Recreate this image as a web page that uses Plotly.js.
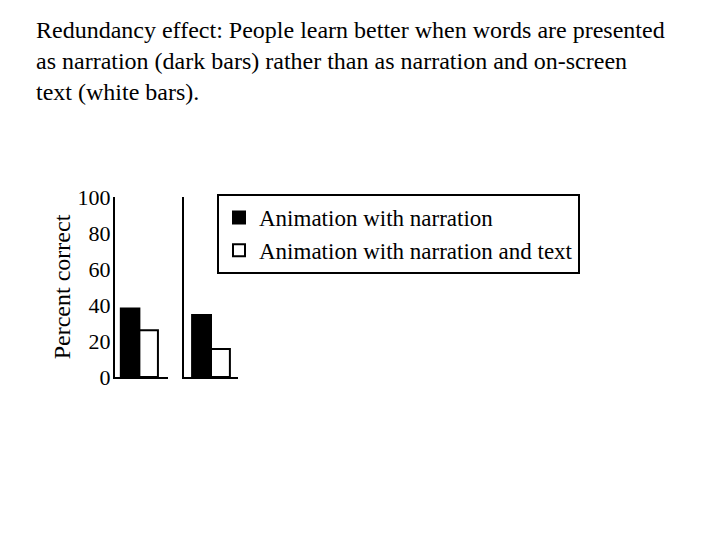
<!DOCTYPE html>
<html>
<head>
<meta charset="utf-8">
<script src="https://cdn.plot.ly/plotly-3.0.1.min.js"></script>
<style>
  body { margin: 0; background: #fff; }
  #plotDiv { width: 720px; height: 540px; }
</style>
</head>
<body>
<div id="plotDiv"></div>
<script>
// Data
const groups = ["Study 1", "Study 2"];
const narration = [38, 34.5];
const narrationText = [26, 15.5];
const seriesNames = ["Animation with narration", "Animation with narration and text"];
const yTicks = [0, 20, 40, 60, 80, 100];

const serif = "Liberation Serif, Times New Roman, serif";

let traces = [];
for (let i = 0; i < groups.length; i++) {
  let xa = i === 0 ? "x" : "x2";
  let ya = i === 0 ? "y" : "y2";
  traces.push({
    type: "bar",
    x: [groups[i]],
    y: [narration[i]],
    xaxis: xa,
    yaxis: ya,
    name: seriesNames[0],
    legendgroup: "a",
    showlegend: i === 0,
    marker: { color: "#000", line: { color: "#000", width: 2 } },
  });
  traces.push({
    type: "bar",
    x: [groups[i]],
    y: [narrationText[i]],
    xaxis: xa,
    yaxis: ya,
    name: seriesNames[1],
    legendgroup: "b",
    showlegend: i === 0,
    marker: { color: "#fff", line: { color: "#000", width: 2 } },
  });
}

let yDomain = [163 / 540, 343 / 540];
let axisLine = { showline: true, linecolor: "#000", linewidth: 2 };

let layout = {
  width: 720,
  height: 540,
  paper_bgcolor: "#fff",
  plot_bgcolor: "#fff",
  margin: { l: 0, r: 0, t: 0, b: 0 },
  barmode: "group",
  bargap: 0.3,
  bargroupgap: 0,
  font: { family: serif, color: "#000" },
  title: {
    text: "Redundancy effect: People learn better when words are presented<br>as narration (dark bars) rather than as narration and on-screen<br>text (white bars).",
    font: { family: serif, size: 24, color: "#000" },
    x: 36 / 720,
    xanchor: "left",
    xref: "paper",
    y: 1 - 38 / 540,
    yanchor: "top",
    yref: "paper",
    pad: { t: 0, b: 0, l: 0, r: 0 },
  },
  xaxis: Object.assign({
    domain: [115 / 720, 168 / 720],
    type: "category",
    range: [-0.46, 0.54],
    showticklabels: false,
    showgrid: false,
    zeroline: false,
    anchor: "y",
  }, axisLine),
  yaxis: Object.assign({
    domain: yDomain,
    range: [0, 100],
    tickvals: yTicks,
    ticktext: yTicks.map(String),
    tickfont: { family: serif, size: 22, color: "#000" },
    ticklabelstandoff: -2,
    showgrid: false,
    zeroline: false,
    ticks: "",
    anchor: "x",
    title: { text: "Percent correct", font: { family: serif, size: 24, color: "#000" }, standoff: 0 },
  }, axisLine),
  xaxis2: Object.assign({
    domain: [184 / 720, 238 / 720],
    type: "category",
    range: [-0.5, 0.5],
    showticklabels: false,
    showgrid: false,
    zeroline: false,
    anchor: "y2",
  }, axisLine),
  yaxis2: Object.assign({
    domain: yDomain,
    range: [0, 100],
    showticklabels: false,
    showgrid: false,
    zeroline: false,
    ticks: "",
    anchor: "x2",
  }, axisLine),
  showlegend: true,
  legend: {
    x: 217 / 720,
    xanchor: "left",
    y: 1 - 194 / 540,
    yanchor: "top",
    bgcolor: "#fff",
    bordercolor: "#000",
    borderwidth: 2,
    traceorder: "normal",
    tracegroupgap: 0,
    itemwidth: 30,
    font: { family: serif, size: 23, color: "#000" },
  },
};

Plotly.newPlot("plotDiv", traces, layout, { displayModeBar: false });
</script>
</body>
</html>
